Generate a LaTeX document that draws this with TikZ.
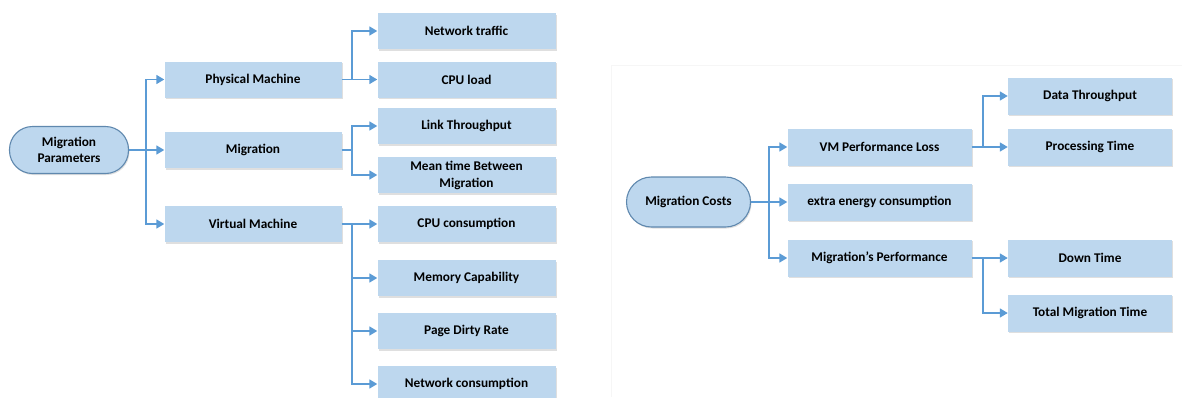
\documentclass[tikz,border=0pt]{standalone}
\usepackage{fontspec}
\setmainfont{Carlito}
\usetikzlibrary{arrows.meta,shadows}
\definecolor{boxfill}{HTML}{BDD7EE}
\definecolor{linec}{HTML}{5B9BD5}
\definecolor{pillborder}{HTML}{5F88AE}
\tikzset{
  bx/.style={fill=boxfill, draw=none, minimum height=36pt, inner sep=2pt, align=center,
    font=\fontsize{13.3}{15}\selectfont\bfseries,
    drop shadow={shadow xshift=1pt, shadow yshift=-1.5pt, opacity=0.25, fill=gray}},
  pill/.style={fill=boxfill, draw=pillborder, line width=1.1pt, rounded corners=23pt, align=center,
    font=\fontsize{13.3}{16}\selectfont\bfseries,
    drop shadow={shadow xshift=1pt, shadow yshift=-1.5pt, opacity=0.25, fill=gray}},
  ln/.style={draw=linec, line width=1.6pt},
  arr/.style={ln, -{Triangle[length=8pt,width=9pt]}},
}
\begin{document}
\begin{tikzpicture}[x=1pt,y=-1pt]
\useasboundingbox (0,0) rectangle (1182,397);
% faint panel of right diagram
\draw[gray!7, line width=0.8pt] (611,397) -- (611,65) -- (1182,65);
%%%%% left diagram
\node[pill, minimum width=119pt, minimum height=47pt] (mp) at (69,150) {Migration\\Parameters};
\node[bx, minimum width=177pt] (pm) at (253,79.5) {Physical Machine};
\node[bx, minimum width=177pt] (mig) at (253,150) {Migration};
\node[bx, minimum width=177pt] (vm) at (253,224) {Virtual Machine};
\node[bx, minimum width=178pt] (nt) at (466.5,31) {Network traffic};
\node[bx, minimum width=178pt] (cpu) at (466.5,79.5) {CPU load};
\node[bx, minimum width=178pt] (lt) at (466.5,126) {Link Throughput};
\node[bx, minimum width=178pt, font=\fontsize{13.3}{17}\selectfont\bfseries] (mtbm) at (466.5,175) {Mean time Between\\Migration};
\node[bx, minimum width=178pt] (cc) at (466.5,224) {CPU consumption};
\node[bx, minimum width=178pt] (mc) at (466.5,278) {Memory Capability};
\node[bx, minimum width=178pt] (pdr) at (466.5,331) {Page Dirty Rate};
\node[bx, minimum width=178pt] (nc) at (466.5,384) {Network consumption};
\coordinate (t1) at (146,150);
\draw[ln] (mp.east) -- (t1);
\draw[arr] (t1) |- (pm.west);
\draw[arr] (t1) -- (mig.west);
\draw[arr] (t1) |- (vm.west);
\coordinate (b1) at (352,79.5);
\draw[ln] (pm.east) -- (b1);
\draw[arr] (b1) |- (nt.west);
\draw[arr] (b1) -- (cpu.west);
\coordinate (b2) at (352,150);
\draw[ln] (mig.east) -- (b2);
\draw[arr] (b2) |- (lt.west);
\draw[arr] (b2) |- (mtbm.west);
\coordinate (b3) at (352,224);
\draw[ln] (vm.east) -- (b3);
\draw[arr] (b3) -- (cc.west);
\draw[arr] (b3) |- (mc.west);
\draw[arr] (b3) |- (pdr.west);
\draw[arr] (b3) |- (nc.west);
%%%%% right diagram
\node[pill, minimum width=124pt, minimum height=50pt, rounded corners=25pt] (mcst) at (688.5,202) {Migration Costs};
\node[bx, minimum width=184pt, minimum height=37pt] (vpl) at (879.5,147) {VM Performance Loss};
\node[bx, minimum width=184pt, minimum height=37pt] (eec) at (879.5,202) {extra energy consumption};
\node[bx, minimum width=184pt, minimum height=37pt] (mpf) at (879.5,258) {Migration’s Performance};
\node[bx, minimum width=164pt, minimum height=37pt] (dt) at (1090,96) {Data Throughput};
\node[bx, minimum width=164pt, minimum height=37pt] (prt) at (1090,147) {Processing Time};
\node[bx, minimum width=164pt, minimum height=37pt] (dwt) at (1090,258) {Down Time};
\node[bx, minimum width=164pt, minimum height=37pt] (tmt) at (1090,313) {Total Migration Time};
\coordinate (t2) at (769,202);
\draw[ln] (mcst.east) -- (t2);
\draw[arr] (t2) |- (vpl.west);
\draw[arr] (t2) -- (eec.west);
\draw[arr] (t2) |- (mpf.west);
\coordinate (b4) at (983,147);
\draw[ln] (vpl.east) -- (b4);
\draw[arr] (b4) |- (dt.west);
\draw[arr] (b4) -- (prt.west);
\coordinate (b5) at (983,258);
\draw[ln] (mpf.east) -- (b5);
\draw[arr] (b5) -- (dwt.west);
\draw[arr] (b5) |- (tmt.west);
\end{tikzpicture}
\end{document}
